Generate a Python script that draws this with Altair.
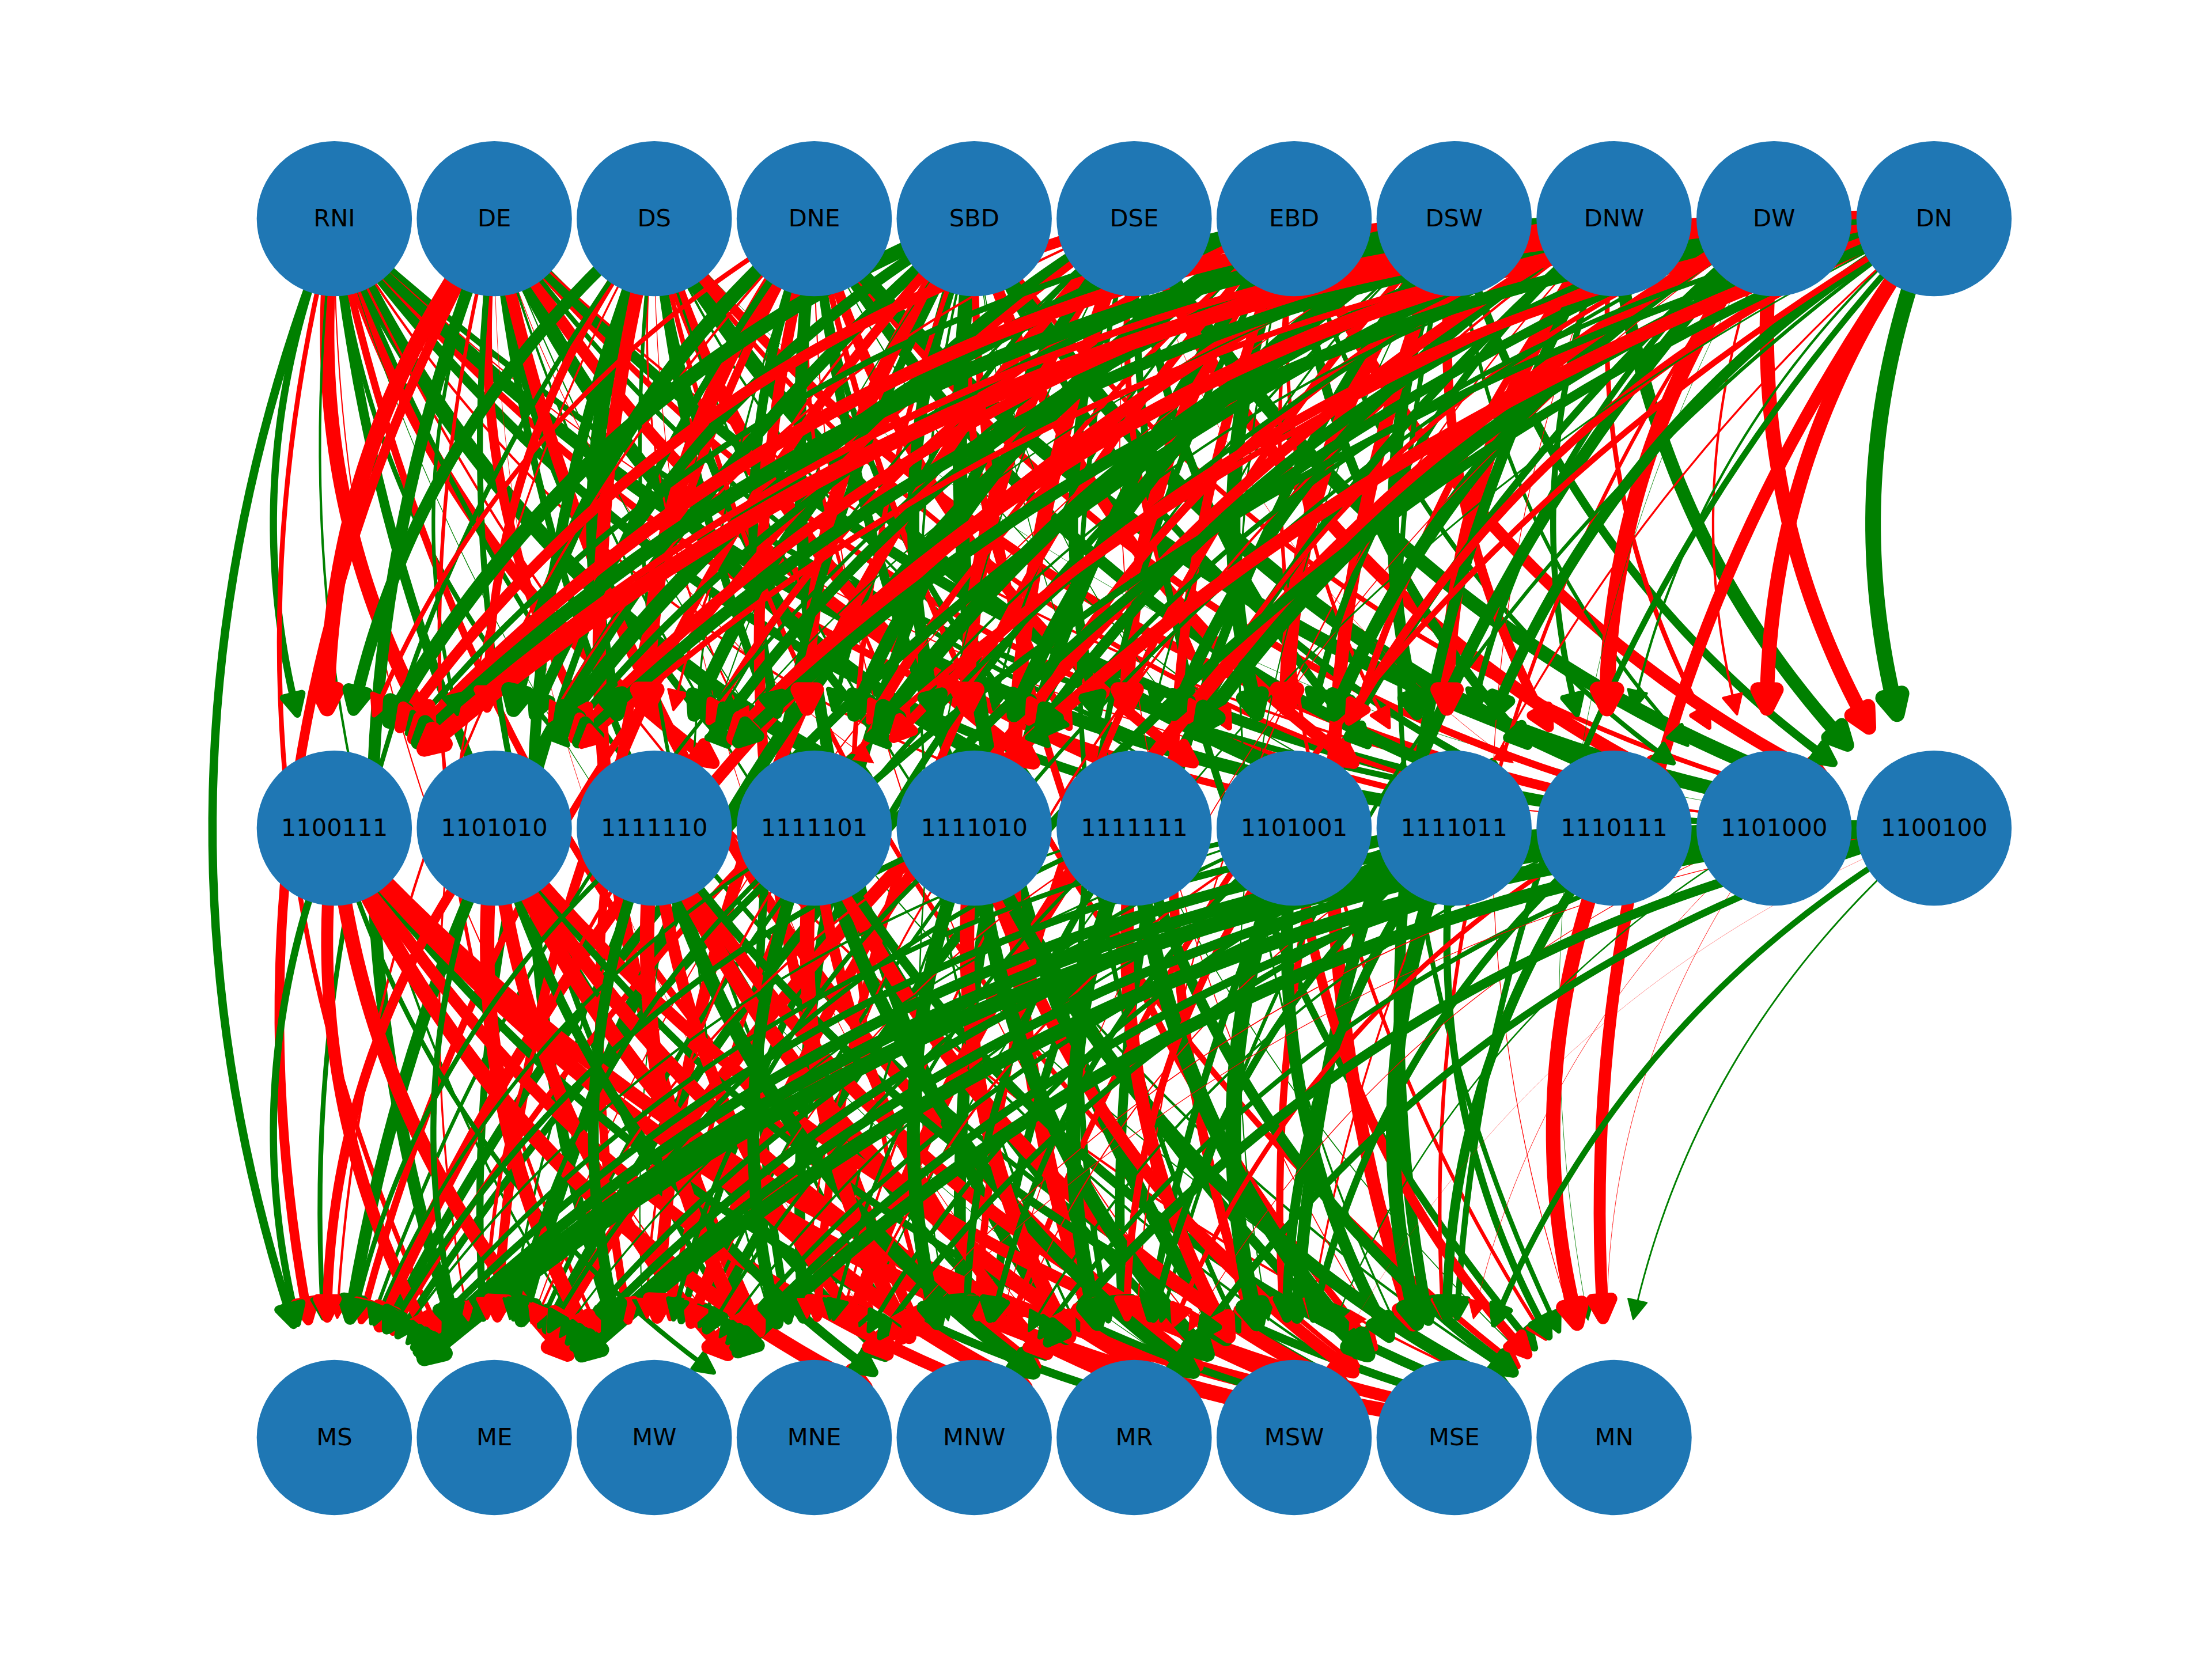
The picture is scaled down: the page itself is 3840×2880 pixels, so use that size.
import math
import altair as alt
import pandas as pd

alt.data_transformers.disable_max_rows()

# ---------------- data ----------------
TOP = ["RNI", "DE", "DS", "DNE", "SBD", "DSE", "EBD", "DSW", "DNW", "DW", "DN"]
MID = ["1100111", "1101010", "1111110", "1111101", "1111010", "1111111",
       "1101001", "1111011", "1110111", "1101000", "1100100"]
BOT = ["MS", "ME", "MW", "MNE", "MNW", "MR", "MSW", "MSE", "MN"]

# edge weights (line width in points, sign: + green / - red), estimated
W_TM = [  # top -> middle
    [ 3.0, -6.0,  2.0, -5.0,  6.5, -1.0,  4.0, -3.0,  5.5, -0.5,  2.5],
    [-6.5,  1.5, -4.0,  3.0, -0.3,  6.0, -5.0,  2.0, -2.5,  4.5, -1.0],
    [ 5.0, -3.5,  6.0, -0.8,  3.5, -5.5,  1.0,  6.5, -2.0, -4.0,  0.2],
    [-2.0,  6.0, -6.5,  4.0, -1.5,  2.5, -4.5,  0.5,  5.0, -3.0,  6.0],
    [ 6.0,  4.5, -1.0, -6.0,  5.0, -3.0,  0.4, -5.0,  3.0,  6.5, -2.0],
    [-4.5, -1.0,  5.5,  2.0, -6.5,  4.0, -2.5,  3.5, -0.2, -5.5,  6.0],
    [ 2.5,  6.5, -3.0,  5.5,  1.0, -6.0,  6.0, -1.5,  4.0,  2.0, -5.0],
    [-5.5,  3.0,  4.5, -2.5,  6.0,  0.8, -6.5,  5.0, -4.0,  1.5,  3.5],
    [ 6.0, -4.5,  0.6,  6.5, -3.5,  5.0,  3.0, -6.0,  2.5, -2.0,  5.5],
    [-3.0,  5.0, -6.0,  1.0,  4.5, -2.0,  5.5,  2.5, -6.5, -1.0, -6.0],
    [-6.5, -2.5,  5.0, -4.0,  2.0,  6.0, -3.5,  4.5,  1.0, -6.0,  6.5],
]
W_TB = [  # top -> bottom
    [ 3.5, -2.0,  1.0, -0.5,  4.0, -3.0,  0.3,  2.0, -1.0],
    [-4.0,  5.0, -1.5,  2.5, -0.2,  3.0, -5.0,  1.0,  0.5],
    [ 2.0, -0.8,  4.5, -5.5,  1.5, -0.3,  3.5, -2.0,  1.0],
    [-1.0,  3.0, -3.5,  0.8, -4.5,  5.0, -0.5,  4.0, -2.5],
    [ 5.0, -4.0,  0.5,  3.5, -2.0,  1.0,  6.0, -3.0,  0.4],
    [-3.0,  1.0, -5.0,  4.5,  0.6, -6.0,  2.0, -0.4,  3.0],
    [ 1.5,  5.5, -2.0, -3.5,  5.0,  2.5, -4.0,  0.8, -1.5],
    [-5.0, -0.5,  3.0,  1.0, -3.0,  4.0,  0.5, -5.5,  2.0],
    [ 4.0,  2.0, -4.5, -1.0,  3.5, -0.6, -3.0,  4.5, -0.3],
    [-2.5,  4.0,  1.5, -6.0, -0.4,  3.0,  5.0, -1.5,  0.2],
    [ 3.0, -5.5,  4.0,  0.7, -2.5,  1.5, -0.8,  2.5, -5.0],
]
W_MB = [  # middle -> bottom
    [ 3.0, -5.0, -6.0,  2.0, -6.5, -5.0,  3.5, -6.5, -6.0],
    [-4.0,  2.5, -6.0, -5.5,  4.0, -6.5, -6.0,  3.0, -5.0],
    [ 2.0, -1.5,  4.5, -6.0, -5.0,  6.0, -6.5, -5.5,  3.5],
    [ 1.5,  2.0, -1.0,  5.0, -6.0, -4.5,  5.5, -6.0,  4.0],
    [ 2.5, -1.0,  2.0, -0.8,  5.5, -6.0,  6.0, -5.0,  5.5],
    [ 1.0,  2.0, -0.6,  1.5,  3.0,  6.0, -5.5,  6.5,  4.5],
    [ 2.0,  0.8,  1.5, -1.0,  2.5, -3.0,  6.5,  5.0, -4.0],
    [ 3.0,  2.5,  1.0,  2.0, -0.5,  3.0,  4.0,  6.0,  3.0],
    [ 4.5,  3.5,  2.0,  2.5,  1.0, -2.0,  3.0,  4.0, -6.0],
    [ 5.0,  4.0,  3.5, -0.4,  2.0, -0.3,  0.6, -0.2, -0.2],
    [ 6.5,  6.0,  5.5, -0.3,  4.0,  3.0, -0.1,  2.5,  0.7],
]

# ---------------- layout / style ----------------
PAGE_W, PAGE_H, MARGIN = 3840, 2880, 8
X0, DX = 580.4, 277.7
ROW_Y = [379.6, 1437.6, 2495.5]
NODE_R = 134.7
RAD = 0.2
TIP_GAP = 208.0
HEAD = 33.0
PT = 300.0 / 72.0
GREEN, RED = "#008000", "#ff0000"
NODE_COLOR = "#1f77b4"
NSEG = 40


def pos(layer, i):
    return (X0 + DX * i, ROW_Y[layer])


def bez(p0, c, p2, t):
    a, b, d = (1 - t) ** 2, 2 * t * (1 - t), t * t
    return (a * p0[0] + b * c[0] + d * p2[0], a * p0[1] + b * c[1] + d * p2[1])


def dbez(p0, c, p2, t):
    return (2 * (1 - t) * (c[0] - p0[0]) + 2 * t * (p2[0] - c[0]),
            2 * (1 - t) * (c[1] - p0[1]) + 2 * t * (p2[1] - c[1]))


def t_at(p0, c, p2, dist):
    lo, hi = 0.0, 1.0
    for _ in range(60):
        m = (lo + hi) / 2
        q = bez(p0, c, p2, m)
        if math.hypot(q[0] - p2[0], q[1] - p2[1]) > dist:
            lo = m
        else:
            hi = m
    return lo


edges = []
for si in range(len(TOP)):
    for ti in range(len(MID)):
        edges.append((pos(0, si), pos(1, ti), W_TM[si][ti]))
    for ti in range(len(BOT)):
        edges.append((pos(0, si), pos(2, ti), W_TB[si][ti]))
for si in range(len(MID)):
    for ti in range(len(BOT)):
        edges.append((pos(1, si), pos(2, ti), W_MB[si][ti]))

line_rows, head_rows = [], []
for eid, (p0, p2, w) in enumerate(edges):
    col = GREEN if w > 0 else RED
    lw = abs(w) * PT
    x12, y12 = (p0[0] + p2[0]) / 2, (p0[1] + p2[1]) / 2
    dxs, dys = p2[0] - p0[0], p2[1] - p0[1]
    c = (x12 - RAD * dys, y12 + RAD * dxs)  # matplotlib arc3 in screen coords
    t_tip = t_at(p0, c, p2, TIP_GAP)
    t_base = t_at(p0, c, p2, TIP_GAP + HEAD * 0.85)
    for k in range(NSEG + 1):
        t = t_base * k / NSEG
        q = bez(p0, c, p2, t)
        line_rows.append({"eid": eid, "k": k, "x": q[0], "y": q[1], "w": lw, "c": col})
    tip = bez(p0, c, p2, t_tip)
    d = dbez(p0, c, p2, t_tip)
    n = math.hypot(*d)
    ux, uy = d[0] / n, d[1] / n
    ang = math.degrees(math.atan2(ux, -uy)) % 360
    head_rows.append({"eid": eid, "x": tip[0], "y": tip[1], "ang": ang, "w": lw, "c": col})

nodes = []
for layer, names in enumerate([TOP, MID, BOT]):
    for i, nm in enumerate(names):
        x, y = pos(layer, i)
        nodes.append({"x": x, "y": y, "label": nm})

lines_df = pd.DataFrame(line_rows)
heads_df = pd.DataFrame(head_rows)
nodes_df = pd.DataFrame(nodes)

xs = alt.Scale(domain=[MARGIN, PAGE_W - MARGIN], nice=False, zero=False)
ys = alt.Scale(domain=[MARGIN, PAGE_H - MARGIN], nice=False, zero=False, reverse=True)

lines = alt.Chart(lines_df).mark_line(strokeCap="butt", strokeJoin="round").encode(
    x=alt.X("x:Q", scale=xs, axis=None),
    y=alt.Y("y:Q", scale=ys, axis=None),
    detail="eid:N",
    order="k:Q",
    color=alt.Color("c:N", scale=None),
    strokeWidth=alt.StrokeWidth("w:Q", scale=None),
)

heads = alt.Chart(heads_df).mark_point(
    shape="M0,0L-1,2L1,2Z", filled=True, opacity=1, strokeJoin="round",
    size=HEAD * HEAD,
).encode(
    x=alt.X("x:Q", scale=xs, axis=None),
    y=alt.Y("y:Q", scale=ys, axis=None),
    angle=alt.Angle("ang:Q", scale=None),
    fill=alt.Fill("c:N", scale=None),
    stroke=alt.Stroke("c:N", scale=None),
    strokeWidth=alt.StrokeWidth("w:Q", scale=None),
)

# Vega circle symbols: radius = sqrt(size) / 2
circles = alt.Chart(nodes_df).mark_circle(
    size=(2 * NODE_R) ** 2, color=NODE_COLOR, opacity=1
).encode(
    x=alt.X("x:Q", scale=xs, axis=None),
    y=alt.Y("y:Q", scale=ys, axis=None),
)

labels = alt.Chart(nodes_df).mark_text(
    font="DejaVu Sans", fontSize=41.67, color="black", align="center", baseline="middle"
).encode(
    x=alt.X("x:Q", scale=xs, axis=None),
    y=alt.Y("y:Q", scale=ys, axis=None),
    text="label:N",
)

chart = alt.layer(lines, heads, circles, labels).properties(
    width=PAGE_W - 2 * MARGIN, height=PAGE_H - 2 * MARGIN, autosize="none", padding=0
).configure_view(strokeWidth=0)

chart.save("out.html", embed_options={"renderer": "svg", "actions": False})
